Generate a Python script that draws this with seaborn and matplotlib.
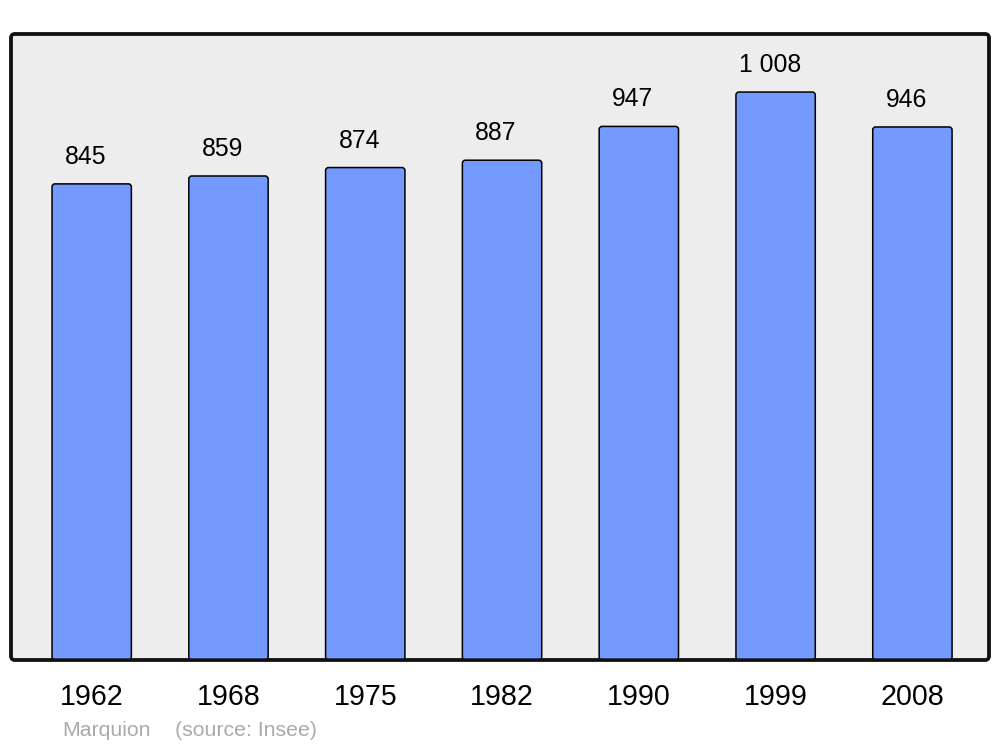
import matplotlib
matplotlib.use("Agg")
import matplotlib.pyplot as plt
from matplotlib.patches import FancyBboxPatch
import seaborn as sns
import pandas as pd

years = ["1962", "1968", "1975", "1982", "1990", "1999", "2008"]
population = [845, 859, 874, 887, 947, 1008, 946]
value_labels = ["845", "859", "874", "887", "947", "1 008", "946"]
commune = "Marquion"
source = "(source: Insee)"

sns.set_theme(style="white")
plt.rcParams["font.family"] = ["Liberation Sans", "DejaVu Sans"]

df = pd.DataFrame({"year": years, "pop": population})

fig = plt.figure(figsize=(10, 7.47), dpi=100)
ax = fig.add_axes([0.011, 87 / 747, 0.978, 626 / 747])
ax.set_facecolor("none")

sns.barplot(data=df, x="year", y="pop", color="#7499FF", saturation=1,
            width=0.58, ax=ax, zorder=2)

ax.set_ylim(0, 1111)
ax.set_xlim(-0.59, 6.56)

# replace bars with rounded versions
x_px = 978 / (6.56 + 0.59)
y_px = 626 / 1111
aspect = (1 / y_px) / (1 / x_px)
for p in list(ax.patches):
    x, y = p.get_x(), p.get_y()
    w, h = p.get_width(), p.get_height()
    p.remove()
    fb = FancyBboxPatch((x, y), w, h,
                        boxstyle="round,pad=0,rounding_size=0.022",
                        mutation_aspect=aspect,
                        facecolor="#7499FF", edgecolor="black",
                        linewidth=1.1, zorder=2)
    ax.add_patch(fb)

# value labels
for i, (v, lab) in enumerate(zip(population, value_labels)):
    ax.annotate(lab, (i, v), xytext=(-4.3, 14.4), textcoords="offset points",
                ha="center", va="baseline", fontsize=17.8, color="black")

# frame
frame = FancyBboxPatch((0, 0), 1, 1, boxstyle="round,pad=0,rounding_size=0.004",
                       mutation_aspect=978 / 626, transform=ax.transAxes,
                       facecolor="#EDEDED", edgecolor="#111111",
                       linewidth=2.4, zorder=0, clip_on=False)
ax.add_patch(frame)
frame2 = FancyBboxPatch((0, 0), 1, 1, boxstyle="round,pad=0,rounding_size=0.004",
                        mutation_aspect=978 / 626, transform=ax.transAxes,
                        facecolor="none", edgecolor="#111111",
                        linewidth=2.4, zorder=5, clip_on=False)
ax.add_patch(frame2)

for s in ax.spines.values():
    s.set_visible(False)

ax.set_yticks([])
ax.set_xlabel("")
ax.set_ylabel("")
ax.tick_params(axis="x", length=0, pad=16.6, labelsize=20.6, labelcolor="black")

fig.text(62 / 1000, 1 - 730 / 747, commune, fontsize=15.3, color="#AAAAAA",
         ha="left", va="center")
fig.text(175 / 1000, 1 - 730 / 747, source, fontsize=15.3, color="#AAAAAA",
         ha="left", va="center")

fig.savefig("out.png", dpi=100)
